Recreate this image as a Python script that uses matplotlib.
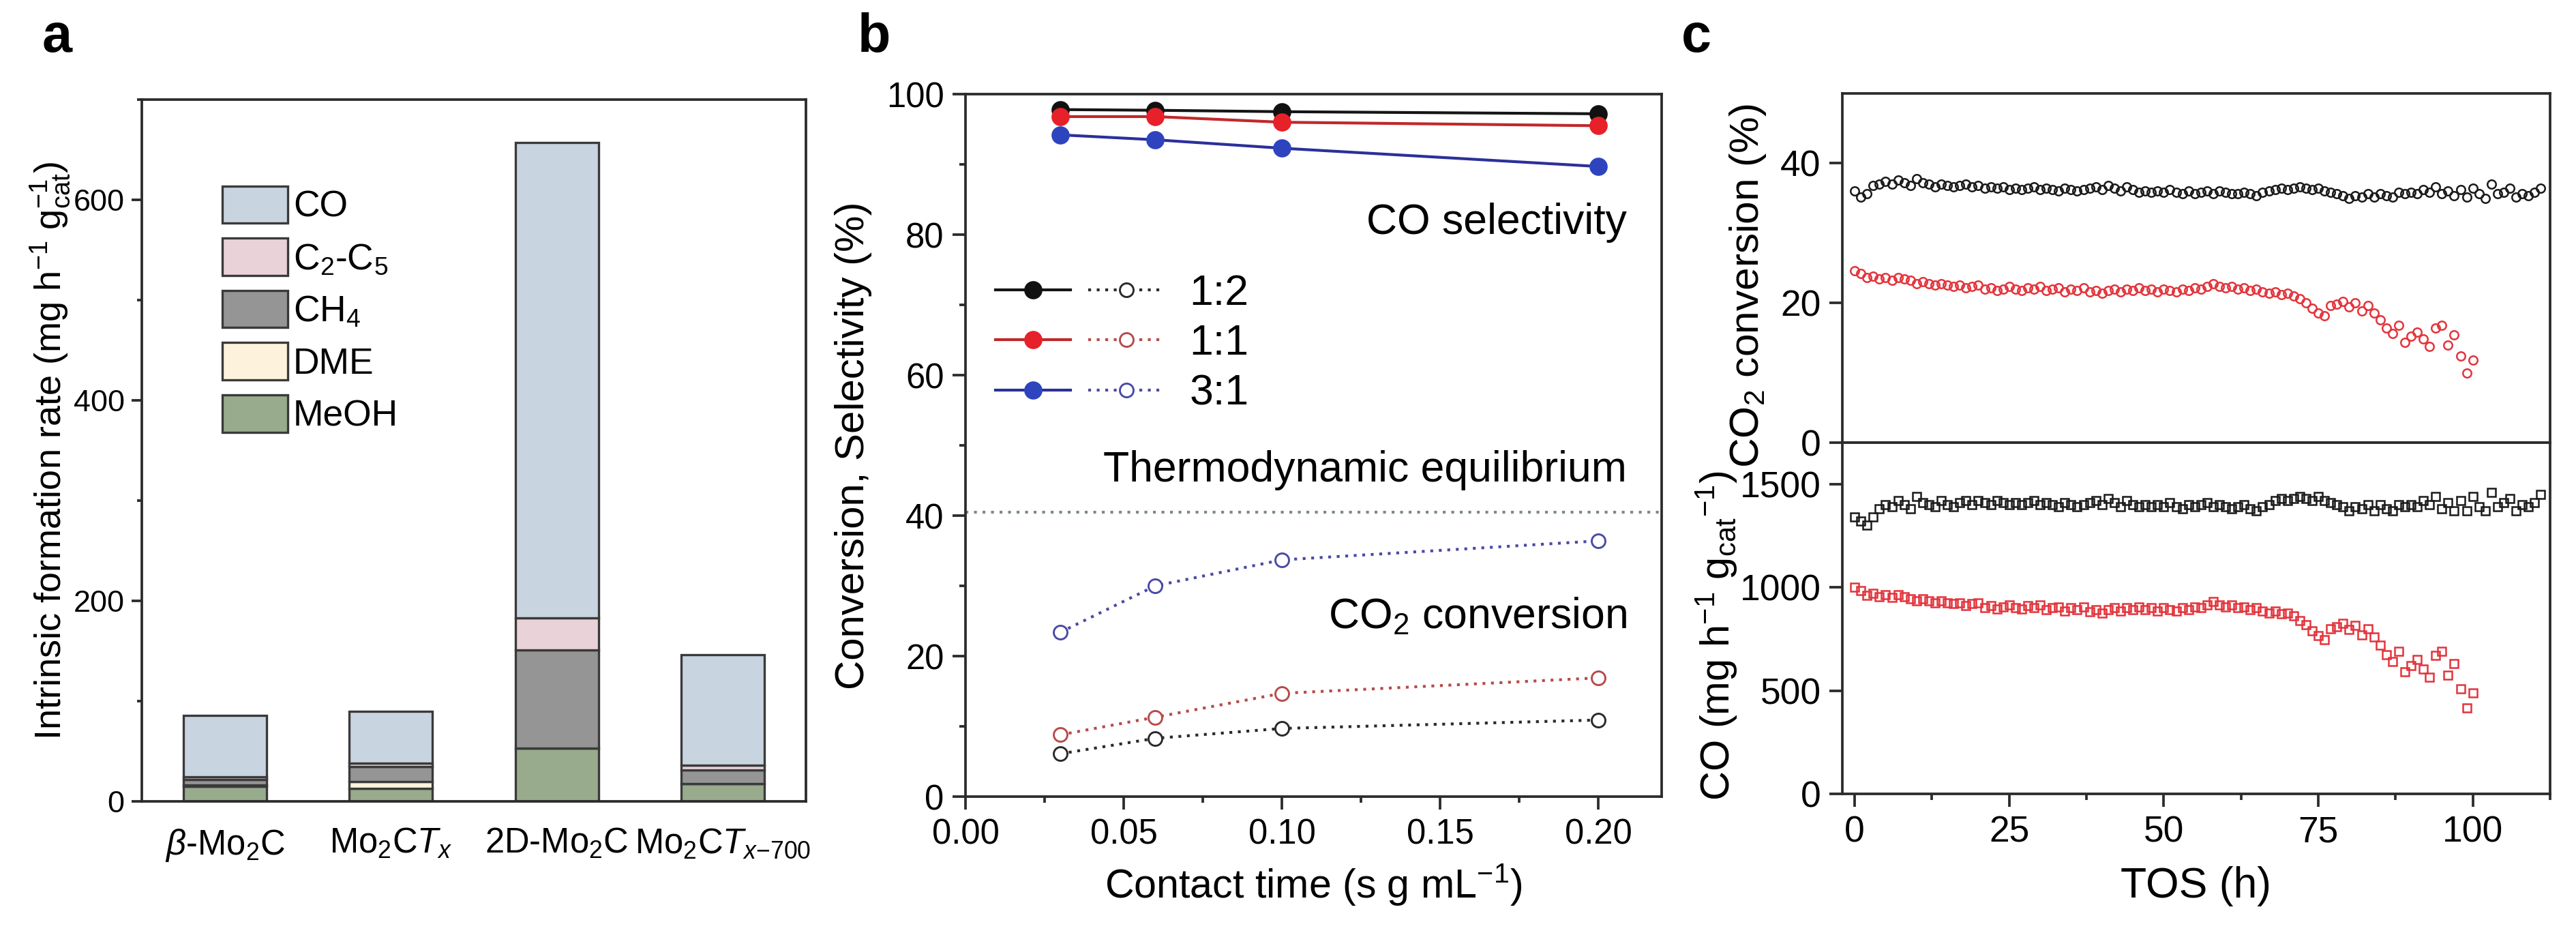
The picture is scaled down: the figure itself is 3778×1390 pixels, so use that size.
import numpy as np
import matplotlib
matplotlib.use("Agg")
import matplotlib.pyplot as plt
from matplotlib.legend_handler import HandlerTuple
from matplotlib.ticker import MultipleLocator, FormatStrFormatter

plt.rcParams['font.family'] = ['Liberation Sans', 'DejaVu Sans']
plt.rcParams['mathtext.fontset'] = 'custom'
plt.rcParams['mathtext.rm'] = 'Liberation Sans'
plt.rcParams['mathtext.it'] = 'Liberation Sans:italic'
plt.rcParams['mathtext.bf'] = 'Liberation Sans:bold'

# ---- panel a: stacked formation rates
catalysts = [r"$\beta$-Mo$_2$C", r"Mo$_2$C$T_x$", r"2D-Mo$_2$C", r"Mo$_2$C$T_{x\mathrm{-700}}$"]
meoh = [15, 13, 53, 18]
dme = [1, 6.5, 0, 0]
ch4 = [5.5, 15, 98, 13.5]
c2c5 = [3, 3.5, 32, 4.5]
co = [61.5, 52, 474, 110]

# ---- panel b: contact time series
contact = [0.03, 0.06, 0.10, 0.20]
sel_12 = [97.8, 97.7, 97.5, 97.2]
sel_11 = [96.8, 96.8, 96.0, 95.5]
sel_31 = [94.2, 93.5, 92.3, 89.7]
conv_12 = [6.1, 8.3, 9.7, 10.9]
conv_11 = [8.8, 11.3, 14.7, 16.9]
conv_31 = [23.4, 30.0, 33.7, 36.4]
equilibrium = 40.5

# ---- panel c: stability test
tos_black = np.arange(0, 112)
tos_red = np.arange(0, 101)
conv_black = [36.0, 35.2, 35.6, 36.8, 37.0, 37.4, 37.0, 37.6, 37.2, 36.8,
              37.8, 37.2, 37.0, 36.6, 37.0, 36.8, 36.6, 36.8, 37.0, 36.6,
              36.8, 36.4, 36.6, 36.4, 36.6, 36.2, 36.4, 36.2, 36.4, 36.6,
              36.2, 36.4, 36.2, 36.0, 36.4, 36.2, 36.0, 36.2, 36.4, 36.6,
              36.2, 36.8, 36.4, 36.0, 36.6, 36.2, 35.8, 36.0, 35.8, 36.0,
              35.8, 36.2, 35.8, 35.6, 36.0, 35.6, 35.8, 36.0, 35.6, 36.0,
              35.8, 35.6, 35.6, 35.8, 35.6, 35.4, 35.8, 36.0, 36.2, 36.4,
              36.2, 36.4, 36.6, 36.4, 36.2, 36.4, 36.0, 35.8, 35.6, 35.4,
              35.0, 35.4, 35.2, 35.6, 35.2, 35.6, 35.4, 35.2, 35.8, 35.6,
              35.8, 35.6, 36.2, 35.8, 36.6, 35.6, 36.0, 35.4, 36.2, 35.2,
              36.4, 35.6, 35.0, 37.0, 35.6, 35.8, 36.4, 35.2, 35.6, 35.4, 35.8, 36.4]
conv_red = [24.6, 24.2, 23.6, 23.8, 23.4, 23.6, 23.2, 23.6, 23.4, 23.2,
            22.8, 23.0, 22.8, 22.6, 22.8, 22.6, 22.4, 22.6, 22.2, 22.4,
            22.6, 22.0, 22.2, 21.8, 22.0, 22.4, 22.0, 21.8, 22.2, 22.0,
            22.4, 21.8, 22.0, 22.2, 21.6, 22.0, 21.8, 22.2, 21.6, 21.8,
            21.4, 21.8, 22.0, 21.6, 22.0, 21.8, 22.2, 21.8, 22.0, 21.6,
            22.0, 21.8, 21.6, 22.0, 21.8, 22.2, 22.0, 22.4, 22.8, 22.4,
            22.2, 22.4, 22.0, 22.2, 21.8, 22.0, 21.6, 21.4, 21.6, 21.2,
            21.4, 21.0, 20.6, 20.0, 19.2, 18.6, 18.2, 19.6, 19.8, 20.2,
            19.4, 20.0, 18.8, 19.6, 18.6, 17.6, 16.4, 15.6, 16.8, 14.4,
            15.2, 15.8, 14.8, 13.8, 16.4, 16.8, 14.0, 15.4, 12.4, 10.0, 11.8]
rate_black = [1340, 1320, 1300, 1340, 1380, 1400, 1390, 1420, 1400, 1380,
              1440, 1410, 1400, 1390, 1420, 1400, 1390, 1410, 1420, 1400,
              1420, 1410, 1400, 1420, 1410, 1400, 1410, 1400, 1410, 1420,
              1400, 1410, 1400, 1390, 1410, 1400, 1390, 1400, 1410, 1420,
              1400, 1430, 1410, 1390, 1420, 1400, 1390, 1400, 1390, 1400,
              1390, 1410, 1390, 1380, 1400, 1390, 1400, 1410, 1390, 1400,
              1390, 1380, 1390, 1400, 1380, 1370, 1390, 1400, 1420, 1430,
              1420, 1430, 1440, 1430, 1420, 1440, 1420, 1410, 1400, 1390,
              1370, 1390, 1380, 1400, 1370, 1400, 1380, 1370, 1400, 1390,
              1400, 1390, 1420, 1400, 1440, 1380, 1410, 1370, 1420, 1370,
              1440, 1390, 1370, 1460, 1390, 1410, 1430, 1370, 1400, 1390, 1410, 1450]
rate_red = [1000, 985, 960, 970, 955, 965, 950, 965, 955, 945,
            935, 945, 935, 925, 935, 925, 920, 925, 910, 920,
            925, 900, 910, 895, 905, 915, 900, 895, 910, 900,
            915, 890, 900, 905, 885, 900, 890, 905, 880, 890,
            875, 890, 900, 885, 900, 890, 905, 890, 900, 885,
            900, 890, 885, 900, 890, 905, 900, 915, 930, 915,
            905, 915, 900, 905, 890, 900, 885, 875, 885, 870,
            875, 860, 840, 820, 790, 765, 745, 800, 810, 825,
            795, 815, 770, 800, 760, 720, 675, 640, 690, 590,
            620, 650, 605, 565, 670, 690, 575, 630, 510, 415, 490]

W, H = 3779, 1390
fig = plt.figure(figsize=(W / 300, H / 300), dpi=300)

spine_c = '#2b2b2b'


def style(ax, fs, major=4.5, pad=3):
    for s in ax.spines.values():
        s.set_color(spine_c)
        s.set_linewidth(0.9)
    ax.tick_params(which='major', direction='out', length=major, width=0.9,
                   labelsize=fs, color=spine_c, pad=pad)
    ax.tick_params(which='minor', direction='out', length=major / 2, width=0.9, color=spine_c)


# ---------------- panel a
axa = fig.add_axes([208 / W, 1 - 1175 / H, 974 / W, 1029 / H])
pos = np.arange(1, 5)
layers = [(meoh, '#98ab8c', 'MeOH'), (dme, '#fdf3dc', 'DME'), (ch4, '#959595', 'CH$_4$'),
          (c2c5, '#e9d3d8', 'C$_2$-C$_5$'), (co, '#c9d4e1', 'CO')]
bottom = np.zeros(4)
bars = {}
for vals, col, lab in layers:
    bars[lab] = axa.bar(pos, vals, 0.5, bottom=bottom, color=col, edgecolor='#3a3a3a',
                        linewidth=0.8, label=lab)
    bottom += np.array(vals)
axa.set_xlim(0.5, 4.5)
axa.set_ylim(0, 700)
axa.set_xticks(pos)
axa.set_xticklabels(catalysts)
axa.yaxis.set_major_locator(MultipleLocator(200))
axa.yaxis.set_minor_locator(MultipleLocator(100))
style(axa, 10.8, major=3.6, pad=2.5)
axa.tick_params(axis='x', length=0, pad=9, labelsize=12.2)
axa.set_ylabel(r"Intrinsic formation rate (mg h$^{-1}$ g$_{\mathrm{cat}}^{-1}$)", fontsize=13)
axa.yaxis.set_label_coords(-0.105, 0.5)
order = ['CO', 'C$_2$-C$_5$', 'CH$_4$', 'DME', 'MeOH']
axa.legend([bars[k] for k in order], order, loc='upper left', bbox_to_anchor=(0.121, 0.877),
           frameon=False, fontsize=12.8, handlelength=1.8, handleheight=1.2,
           labelspacing=0.38, borderpad=0, borderaxespad=0, handletextpad=0.15)

# ---------------- panel b
axb = fig.add_axes([1416 / W, 1 - 1168 / H, 1021 / W, 1030 / H])
cols_line = ['#151515', '#c0282c', '#2b309a']
cols_mark = ['#111111', '#e62129', '#2e44bf']
cols_open = ['#2a2a2a', '#b84a4a', '#4a4aa6']
sels = [sel_12, sel_11, sel_31]
convs = [conv_12, conv_11, conv_31]
labels = ['1:2', '1:1', '3:1']
handles = []
for i in range(3):
    hs, = axb.plot(contact, sels[i], '-', color=cols_line[i], lw=1.0, marker='o', ms=5.4,
                   mfc=cols_mark[i], mec=cols_mark[i], zorder=3)
    ho, = axb.plot(contact, convs[i], linestyle=(0, (1, 2)), color=cols_open[i], lw=1.0,
                   marker='o', ms=4.8, mfc='white', mec=cols_open[i], mew=0.7, zorder=3)
    handles.append((hs, ho))
axb.axhline(equilibrium, color='#7d8c80', lw=1.0, linestyle=(0, (1, 2)), zorder=1)
axb.set_xlim(0, 0.22)
axb.set_ylim(0, 100)
axb.xaxis.set_major_locator(MultipleLocator(0.05))
axb.xaxis.set_minor_locator(MultipleLocator(0.025))
axb.yaxis.set_major_locator(MultipleLocator(20))
axb.yaxis.set_minor_locator(MultipleLocator(10))
axb.xaxis.set_major_formatter(FormatStrFormatter('%.2f'))
style(axb, 12.2)
axb.set_xlabel(r"Contact time (s g mL$^{-1}$)", fontsize=14.2, labelpad=4)
axb.set_ylabel("Conversion, Selectivity (%)", fontsize=14.4, labelpad=5)
axb.text(0.209, 81.7, "CO selectivity", ha='right', va='center', fontsize=15)
axb.text(0.209, 46.5, "Thermodynamic equilibrium", ha='right', va='center', fontsize=15)
axb.text(0.209, 25.6, r"CO$_2$ conversion", ha='right', va='center', fontsize=15)
axb.legend(handles, labels, handler_map={tuple: HandlerTuple(ndivide=None, pad=0.42)},
           loc='upper left', bbox_to_anchor=(0.043, 0.745), frameon=False, fontsize=15,
           handlelength=3.95, handletextpad=0.6, labelspacing=0.23, borderpad=0, borderaxespad=0)

# ---------------- panel c
axc1 = fig.add_axes([2702 / W, 1 - 649 / H, 1038 / W, 512 / H])
axc2 = fig.add_axes([2702 / W, 1 - 1164 / H, 1038 / W, 515 / H], sharex=axc1)
axc1.plot(tos_black, conv_black, 'o', ms=3.0, mfc='none', mec='#1a1a1a', mew=0.6)
axc1.plot(tos_red, conv_red, 'o', ms=3.0, mfc='none', mec='#e3343c', mew=0.6)
axc2.plot(tos_black, rate_black, 's', ms=2.8, mfc='none', mec='#1a1a1a', mew=0.6)
axc2.plot(tos_red, rate_red, 's', ms=2.8, mfc='none', mec='#e3343c', mew=0.6)
axc1.set_ylim(0, 50)
axc2.set_ylim(0, 1700)
axc2.set_xlim(-2, 112.5)
axc1.yaxis.set_major_locator(MultipleLocator(20))
axc2.yaxis.set_major_locator(MultipleLocator(500))
axc2.xaxis.set_major_locator(MultipleLocator(25))
axc2.xaxis.set_minor_locator(MultipleLocator(12.5))
style(axc1, 12.8)
style(axc2, 12.8)
axc1.tick_params(axis='x', which='both', length=0, labelbottom=False)
axc2.set_xlabel("TOS (h)", fontsize=15, labelpad=6)
axc1.set_ylabel(r"CO$_2$ conversion (%)", fontsize=14.5)
axc2.set_ylabel(r"CO (mg h$^{-1}$ g$_{\mathrm{cat}}$$^{-1}$)", fontsize=14.3)
axc1.yaxis.set_label_coords(-0.105, 0.45)
axc2.yaxis.set_label_coords(-0.145, 0.45)

# panel letters
fig.text(62 / W, 1 - 76 / H, 'a', fontsize=19, fontweight='bold')
fig.text(1258 / W, 1 - 76 / H, 'b', fontsize=19, fontweight='bold')
fig.text(2466 / W, 1 - 76 / H, 'c', fontsize=19, fontweight='bold')

fig.savefig('out.png', dpi=300)
